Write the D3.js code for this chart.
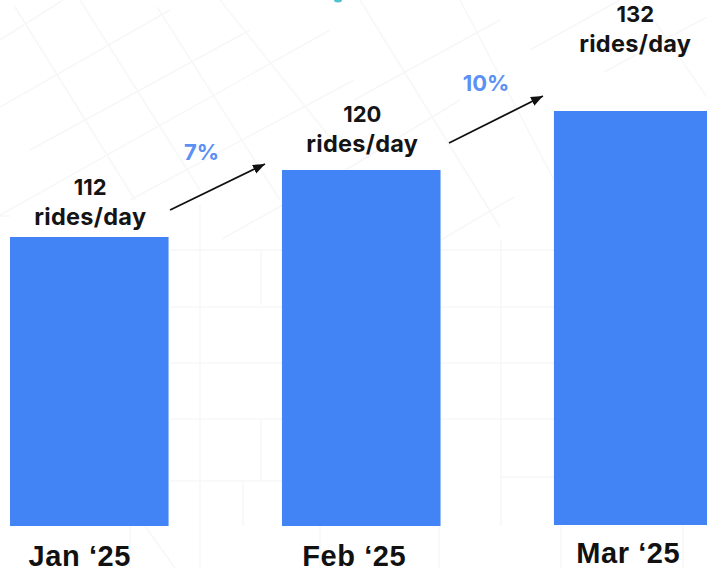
<!DOCTYPE html>
<html>
<head>
<meta charset="utf-8">
<script src="https://cdn.jsdelivr.net/npm/d3@7"></script>
<style>
  html, body { margin: 0; padding: 0; background: #fff; }
  svg { display: block; }
</style>
</head>
<body>
<svg id="chart" width="707" height="568"></svg>
<script>
const months = ["Jan ‘25", "Feb ‘25", "Mar ‘25"];
const ridesPerDay = [112, 120, 132];
const growthLabels = ["7%", "10%"];
const unitLabel = "rides/day";

const width = 707, height = 568;
const barBottom = 526;
const barColor = "#4283f5";

// the bars in the picture are not to a single scale, so this one has a stop per value
const y = d3.scaleLinear().domain(ridesPerDay).range([237, 170, 111]);
const x = d3.scaleBand().domain(months).range([10, 712.5]).paddingInner(0.417).paddingOuter(0);

// hand placed bits, per bar: value label lift, month label nudges, centre nudge
const labelLift = [12, 18, 59];
const monthLift = [0, 0, -3];
const monthShift = [-9.5, -7, -5];
const centerNudge = [1, 1, 2];

// arrows and percent labels, offsets from the bars they join
const arrowOffsets = [
  { x1: 1.5, y1: -27, x2: -17, y2: -6 },
  { x1: 8.5, y1: -27, x2: -11, y2: -15 }
];
const growthOffsets = [
  { dx: 33, y: -77 },
  { dx: 45.5, y: -79 }
];

// faint street map behind the chart
const streets = [
  [15, 7, 135, 200], [80, 0, 200, 190], [157, 7, 280, 200], [220, 0, 340, 150],
  [0, 40, 63, 0], [0, 107, 170, 10], [30, 150, 250, 30], [0, 215, 330, 30],
  [130, 200, 354, 80], [222, 239, 354, 165], [354, 165, 460, 100],
  [360, 0, 500, 227], [460, 0, 554, 180], [354, 100, 500, 20], [530, 50, 620, 0],
  [604, 72, 707, 17], [640, 0, 707, 97],
  [441, 240, 514, 197],
  [0, 216, 10, 216], [170, 250, 282, 250], [441, 250, 554, 250],
  [170, 307, 282, 307], [441, 307, 554, 307],
  [170, 363, 282, 363], [441, 363, 554, 363],
  [170, 419, 282, 419], [441, 419, 554, 419],
  [170, 481, 282, 481], [501, 477, 554, 477],
  [200, 205, 200, 568], [261, 250, 261, 305], [261, 420, 261, 480], [243, 481, 243, 526],
  [501, 240, 501, 526], [130, 526, 130, 568], [145, 526, 175, 568],
  [320, 526, 320, 568], [439, 526, 439, 568], [561, 525, 561, 568], [683, 525, 683, 568]
];

const svg = d3.select("#chart");

svg.append("defs").append("marker")
  .attr("id", "head")
  .attr("viewBox", "0 0 10 8")
  .attr("refX", 10)
  .attr("refY", 4)
  .attr("markerUnits", "userSpaceOnUse")
  .attr("markerWidth", 12)
  .attr("markerHeight", 10)
  .attr("orient", "auto")
  .append("path")
  .attr("d", "M0,0L10,4L0,8Z")
  .attr("fill", "#111");

svg.append("g")
  .selectAll("line")
  .data(streets)
  .enter().append("line")
  .attr("x1", d => d[0])
  .attr("y1", d => d[1])
  .attr("x2", d => d[2])
  .attr("y2", d => d[3])
  .attr("stroke", "#f7f7f7")
  .attr("stroke-width", 1.5);

// sliver of something cut off by the top edge
svg.append("ellipse")
  .attr("cx", 338)
  .attr("cy", 0)
  .attr("rx", 4)
  .attr("ry", 2.5)
  .attr("fill", "#4fc3d0");

svg.append("g")
  .selectAll("rect")
  .data(ridesPerDay)
  .enter().append("rect")
  .attr("x", (d, i) => x(months[i]))
  .attr("y", d => y(d))
  .attr("width", x.bandwidth())
  .attr("height", (d, i) => barBottom - (i == 2 ? 1 : 0) - y(d))
  .attr("fill", barColor);

const labels = svg.append("g")
  .selectAll("text")
  .data(ridesPerDay)
  .enter().append("text")
  .attr("text-anchor", "middle")
  .attr("font-family", "Inter")
  .attr("font-weight", 700)
  .attr("fill", "#141414")
  .attr("transform", (d, i) => `translate(${x(months[i]) + x.bandwidth() / 2 + centerNudge[i]}, ${y(d) - labelLift[i]})`);

labels.append("tspan")
  .attr("x", 0)
  .attr("y", -30)
  .attr("font-size", 22)
  .text(d => d);

labels.append("tspan")
  .attr("x", 0)
  .attr("y", 0)
  .attr("font-size", 23.5)
  .attr("letter-spacing", 0.3)
  .text(unitLabel);

svg.append("g")
  .selectAll("line")
  .data(arrowOffsets)
  .enter().append("line")
  .attr("x1", (d, i) => x(months[i]) + x.bandwidth() + d.x1)
  .attr("y1", (d, i) => y(ridesPerDay[i]) + d.y1)
  .attr("x2", (d, i) => x(months[i + 1]) + d.x2)
  .attr("y2", (d, i) => y(ridesPerDay[i + 1]) + d.y2)
  .attr("stroke", "#111")
  .attr("stroke-width", 1.8)
  .attr("marker-end", "url(#head)");

svg.append("g")
  .selectAll("text")
  .data(growthLabels)
  .enter().append("text")
  .attr("x", (d, i) => x(months[i]) + x.bandwidth() + growthOffsets[i].dx)
  .attr("y", (d, i) => y(ridesPerDay[i]) + growthOffsets[i].y)
  .attr("text-anchor", "middle")
  .attr("font-family", "Inter")
  .attr("font-weight", 700)
  .attr("font-size", 22)
  .attr("fill", "#5b90f5")
  .text(d => d);

const axis = svg.append("g")
  .attr("transform", `translate(0, ${barBottom})`)
  .call(d3.axisBottom(x).tickSize(0).tickPadding(0));

axis.select(".domain").remove();

axis.selectAll("text")
  .attr("font-family", "Liberation Sans")
  .attr("font-weight", 700)
  .attr("font-size", 29)
  .attr("letter-spacing", 0.6)
  .attr("fill", "#111")
  .attr("dx", (d, i) => monthShift[i])
  .attr("dy", 0)
  .attr("y", (d, i) => 40 + monthLift[i]);
</script>
</body>
</html>
